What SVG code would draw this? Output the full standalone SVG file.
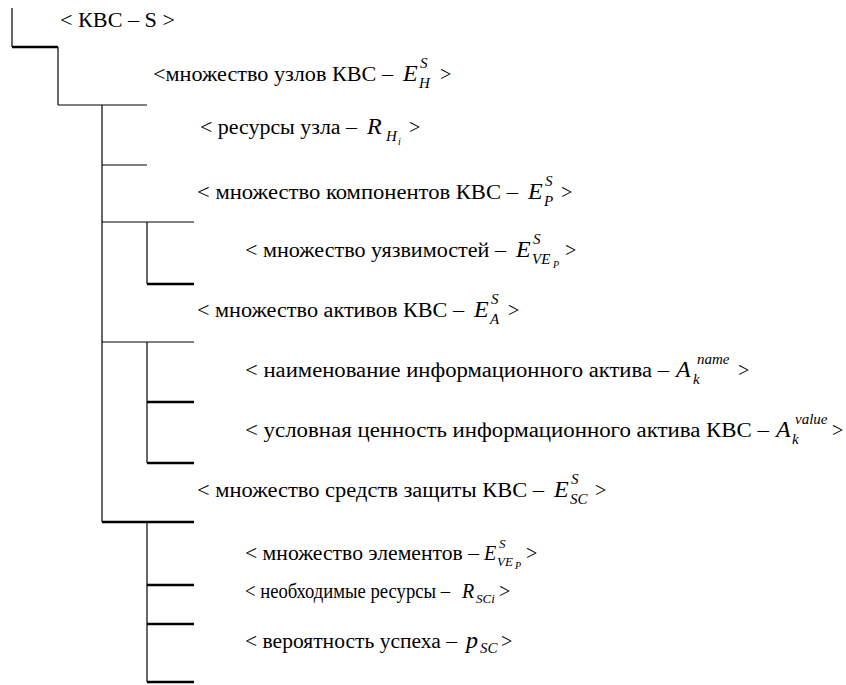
<svg xmlns="http://www.w3.org/2000/svg" width="846" height="685" viewBox="0 0 846 685">
  <style>
    text { font-family: 'Liberation Serif', 'Times New Roman', serif; fill: #000; }
    .t { font-size: 20px; }
    .m { font-size: 24px; font-style: italic; }
    .mm { font-size: 20px; font-style: italic; }
    .s { font-size: 15px; font-style: italic; }
    .sm { font-size: 13px; font-style: italic; }
    .ss { font-size: 10px; font-style: italic; }
    .thin { stroke: #000; stroke-width: 1.2; fill: none; }
    .thick { stroke: #000; stroke-width: 2.6; fill: none; }
  </style>
  <rect width="846" height="685" fill="#fff"/>

  <!-- tree connectors -->
  <g id="connectors">
    <line class="thin" x1="12" y1="8" x2="12" y2="47"/>
    <line class="thick" x1="12" y1="47" x2="58" y2="47"/>
    <line class="thin" x1="58" y1="47" x2="58" y2="105"/>
    <line class="thin" x1="58" y1="105" x2="147" y2="105"/>
    <line class="thin" x1="102" y1="105" x2="102" y2="522"/>
    <line class="thin" x1="102" y1="165" x2="147" y2="165"/>
    <line class="thin" x1="102" y1="222" x2="194" y2="222"/>
    <line class="thin" x1="147" y1="222" x2="147" y2="284"/>
    <line class="thick" x1="147" y1="284" x2="194" y2="284"/>
    <line class="thin" x1="102" y1="342" x2="194" y2="342"/>
    <line class="thin" x1="147" y1="342" x2="147" y2="463"/>
    <line class="thick" x1="147" y1="402" x2="194" y2="402"/>
    <line class="thick" x1="147" y1="463" x2="194" y2="463"/>
    <line class="thick" x1="102" y1="522" x2="194" y2="522"/>
    <line class="thin" x1="147" y1="522" x2="147" y2="682"/>
    <line class="thick" x1="147" y1="585" x2="194" y2="585"/>
    <line class="thick" x1="147" y1="624" x2="194" y2="624"/>
    <line class="thick" x1="147" y1="682" x2="194" y2="682"/>
  </g>

  <g id="kvs">
    <text class="t" x="60" y="27" textLength="115" lengthAdjust="spacingAndGlyphs">&lt; КВС – S &gt;</text>
  </g>

  <g id="hosts">
    <text class="t" x="153" y="81" textLength="240" lengthAdjust="spacingAndGlyphs">&lt;множество узлов КВС –</text>
    <text class="m" x="403" y="81">E</text>
    <text class="s" x="420" y="68">S</text>
    <text class="s" x="419" y="88">H</text>
    <text class="t" x="440" y="81">&gt;</text>
  </g>

  <g id="host-resources">
    <text class="t" x="200" y="134" textLength="157" lengthAdjust="spacingAndGlyphs">&lt; ресурсы узла –</text>
    <text class="m" x="367" y="134">R</text>
    <text class="s" x="386" y="141">H</text>
    <text class="ss" x="398" y="145">i</text>
    <text class="t" x="409" y="134">&gt;</text>
  </g>

  <g id="components">
    <text class="t" x="197" y="199" textLength="321" lengthAdjust="spacingAndGlyphs">&lt; множество компонентов КВС –</text>
    <text class="m" x="528" y="199">E</text>
    <text class="s" x="545" y="186">S</text>
    <text class="s" x="544" y="206">P</text>
    <text class="t" x="561" y="199">&gt;</text>
  </g>

  <g id="vulnerabilities">
    <text class="t" x="245" y="257" textLength="261" lengthAdjust="spacingAndGlyphs">&lt; множество уязвимостей –</text>
    <text class="m" x="516" y="257">E</text>
    <text class="s" x="533" y="244">S</text>
    <text class="s" x="532" y="264">VE</text>
    <text class="ss" x="553" y="268">P</text>
    <text class="t" x="565" y="257">&gt;</text>
  </g>

  <g id="assets">
    <text class="t" x="197" y="317" textLength="267" lengthAdjust="spacingAndGlyphs">&lt; множество активов КВС –</text>
    <text class="m" x="474" y="317">E</text>
    <text class="s" x="491" y="304">S</text>
    <text class="s" x="490" y="324">A</text>
    <text class="t" x="508" y="317">&gt;</text>
  </g>

  <g id="asset-name">
    <text class="t" x="245" y="377" textLength="424" lengthAdjust="spacingAndGlyphs">&lt; наименование информационного актива –</text>
    <text class="m" x="676" y="377">A</text>
    <text class="s" x="697" y="364">name</text>
    <text class="s" x="693" y="384">k</text>
    <text class="t" x="738" y="377">&gt;</text>
  </g>

  <g id="asset-value">
    <text class="t" x="245" y="437" textLength="524" lengthAdjust="spacingAndGlyphs">&lt; условная ценность информационного актива КВС –</text>
    <text class="m" x="776" y="437">A</text>
    <text class="s" x="795" y="424">value</text>
    <text class="s" x="792" y="444">k</text>
    <text class="t" x="832" y="437">&gt;</text>
  </g>

  <g id="safeguards">
    <text class="t" x="197" y="497" textLength="347" lengthAdjust="spacingAndGlyphs">&lt; множество средств защиты КВС –</text>
    <text class="m" x="554" y="497">E</text>
    <text class="s" x="571" y="484">S</text>
    <text class="s" x="570" y="504">SC</text>
    <text class="t" x="595" y="497">&gt;</text>
  </g>

  <g id="elements">
    <text class="t" x="245" y="560" textLength="234" lengthAdjust="spacingAndGlyphs">&lt; множество элементов –</text>
    <text class="mm" x="484" y="560">E</text>
    <text class="sm" x="499" y="548">S</text>
    <text class="sm" x="497" y="566">VE</text>
    <text class="ss" x="515" y="569">P</text>
    <text class="t" x="526" y="560">&gt;</text>
  </g>

  <g id="required-resources">
    <text class="t" x="245" y="598" textLength="205" lengthAdjust="spacingAndGlyphs">&lt; необходимые ресурсы –</text>
    <text class="mm" x="462" y="598">R</text>
    <text class="sm" x="476" y="603">SCi</text>
    <text class="t" x="499" y="598">&gt;</text>
  </g>

  <g id="success-probability">
    <text class="t" x="245" y="648" textLength="212" lengthAdjust="spacingAndGlyphs">&lt; вероятность успеха –</text>
    <text class="m" x="466" y="648">p</text>
    <text class="s" x="480" y="653">SC</text>
    <text class="t" x="501" y="648">&gt;</text>
  </g>
</svg>
